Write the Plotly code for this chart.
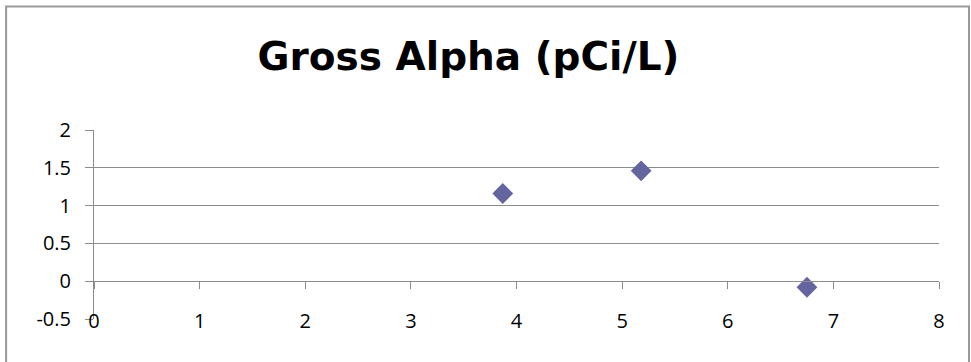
import plotly.graph_objects as go

title_text = "Gross Alpha (pCi/L)"
x_values = [3.87, 5.18, 6.75]
y_values = [1.16, 1.46, -0.08]
x_ticks = [0, 1, 2, 3, 4, 5, 6, 7, 8]
y_ticks = [-0.5, 0, 0.5, 1, 1.5, 2]
y_tick_labels = ["-0.5", "0", "0.5", "1", "1.5", "2"]

grid = "#8c8c8c"
font = "Open Sans"

fig = go.Figure()
fig.add_trace(go.Scatter(
    x=x_values, y=y_values, mode="markers",
    marker=dict(symbol="diamond", size=16, color="#64659f"),
    showlegend=False, xaxis="x", yaxis="y"))
# invisible trace to activate label axis
fig.add_trace(go.Scatter(x=[None], y=[None], xaxis="x2", yaxis="y",
                         showlegend=False, hoverinfo="skip"))

fig.update_layout(
    width=971, height=362,
    margin=dict(l=94, r=32, t=130, b=43),
    paper_bgcolor="white", plot_bgcolor="white",
    font=dict(family=font, color="black"),
    title=dict(text="<b>" + title_text + "</b>", x=0.4825, xanchor="center",
               y=0.843, yanchor="middle",
               font=dict(family="DejaVu Sans", size=39, color="black")),
    xaxis=dict(range=[0, 8], tickvals=x_ticks, showticklabels=False,
               showgrid=False, zeroline=False, showline=True, linecolor=grid,
               linewidth=1, ticks="outside", ticklen=7, tickcolor=grid,
               anchor="free", position=0.2),
    xaxis2=dict(range=[0, 8], tickvals=x_ticks, overlaying="x", side="bottom",
                anchor="y", showgrid=False, zeroline=False, showline=False,
                ticks="", ticklabelstandoff=-12,
                tickfont=dict(family=font, size=20, color="black")),
    yaxis=dict(range=[-0.5, 2], tickvals=y_ticks, ticktext=y_tick_labels,
               showgrid=True, gridcolor=grid, gridwidth=1, zeroline=False,
               showline=True, linecolor=grid, ticks="outside", ticklen=8,
               tickcolor=grid, ticklabelstandoff=10,
               tickfont=dict(family=font, size=20, color="black")),
    shapes=[dict(type="rect", xref="paper", yref="paper",
                 x0=-0.104, x1=1.0355, y0=-0.3, y1=1.653,
                 line=dict(color="#999999", width=2), layer="below")],
)

fig.write_html("out.html", config={"displayModeBar": False},
               post_script="document.body.style.margin='0px';")
